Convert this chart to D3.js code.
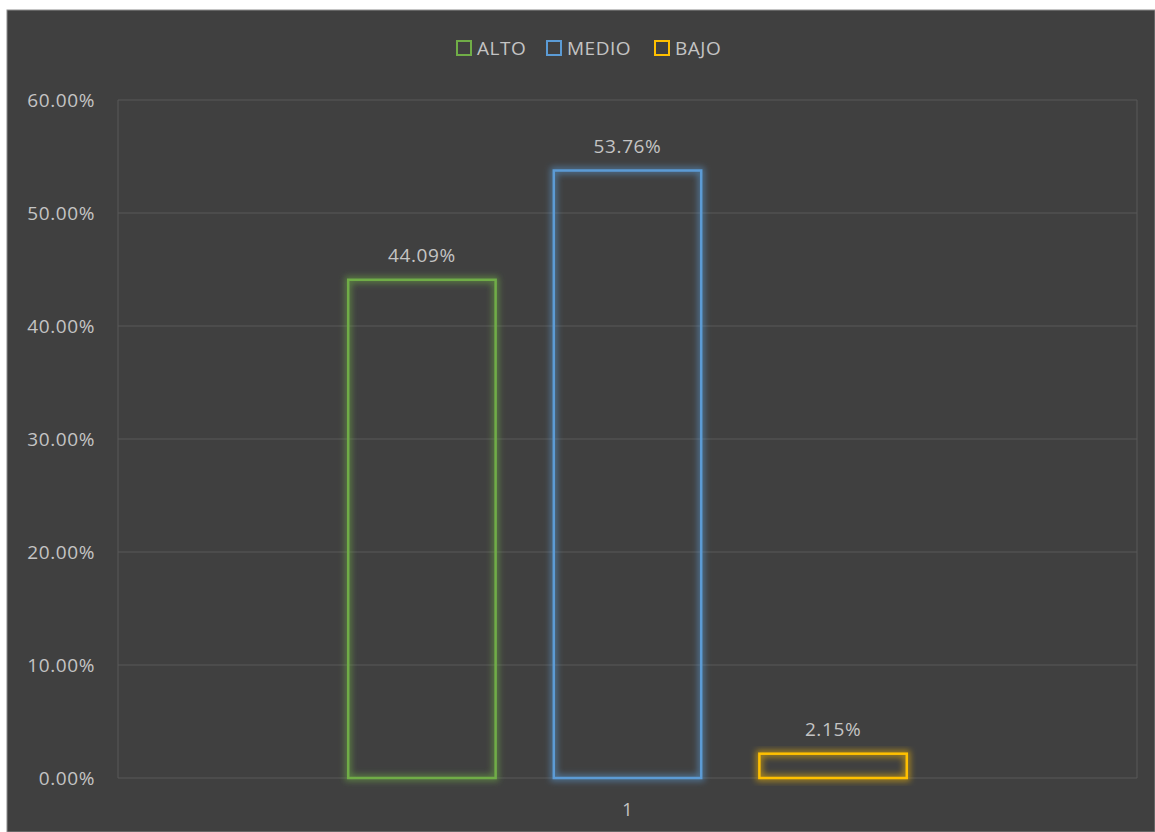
<!DOCTYPE html>
<html>
<head>
<meta charset="utf-8">
<script src="https://cdn.jsdelivr.net/npm/d3@7"></script>
<style>
  body { margin: 0; background: #ffffff; }
  text { font-family: "Open Sans", "Liberation Sans", sans-serif; fill: #c4c4c4; }
</style>
</head>
<body>
<div id="graph1"></div>
<script>
// data
var categories = ["1"];
var seriesNames = ["ALTO", "MEDIO", "BAJO"];
var seriesValues = [0.4409, 0.5376, 0.0215];
var seriesColors = ["#70ad47", "#5b9bd5", "#ffc000"];
var yTicks = [0, 0.1, 0.2, 0.3, 0.4, 0.5, 0.6];

var W = 1155, H = 832;
var margin = {top: 100, right: 18, bottom: 54, left: 118};

var svg = d3.select("#graph1").append("svg")
    .attr("width", W)
    .attr("height", H);

// glow filters, one per series
var defs = svg.append("defs");
seriesColors.forEach(function (c, i) {
    var f = defs.append("filter").attr("id", "glow" + i)
        .attr("x", "-30%").attr("y", "-30%").attr("width", "160%").attr("height", "160%");
    f.append("feMorphology").attr("in", "SourceGraphic").attr("operator", "dilate")
        .attr("radius", 2).attr("result", "d");
    f.append("feGaussianBlur").attr("in", "d").attr("stdDeviation", 3).attr("result", "b");
    f.append("feComponentTransfer").attr("in", "b").attr("result", "b2")
        .append("feFuncA").attr("type", "linear").attr("slope", 0.55);
    var m = f.append("feMerge");
    m.append("feMergeNode").attr("in", "b2");
    m.append("feMergeNode").attr("in", "SourceGraphic");
});

// chart background
svg.append("rect")
    .attr("x", 7).attr("y", 10)
    .attr("width", W - 7).attr("height", H - 10)
    .attr("fill", "#404040")
    .attr("stroke", "#8c8c8c").attr("stroke-width", 1);

var x0 = d3.scaleBand().domain(categories)
    .range([margin.left, W - margin.right]);
var x1 = d3.scaleBand().domain(seriesNames)
    .range([0, x0.bandwidth()])
    .paddingInner(0.283).paddingOuter(1.12);
var y = d3.scaleLinear().domain([0, 0.6])
    .range([H - margin.bottom, margin.top]);

// gridlines
svg.append("g").selectAll("line")
    .data(yTicks)
    .enter().append("line")
    .attr("x1", margin.left).attr("x2", W - margin.right)
    .attr("y1", function (d) { return y(d); })
    .attr("y2", function (d) { return y(d); })
    .attr("stroke", "#595959").attr("stroke-width", 1);

// plot area border sides
svg.append("line")
    .attr("x1", margin.left).attr("x2", margin.left)
    .attr("y1", margin.top).attr("y2", H - margin.bottom)
    .attr("stroke", "#595959");
svg.append("line")
    .attr("x1", W - margin.right).attr("x2", W - margin.right)
    .attr("y1", margin.top).attr("y2", H - margin.bottom)
    .attr("stroke", "#595959");

// y axis
var yAxis = svg.append("g")
    .attr("transform", "translate(" + (margin.left - 23) + ",0)")
    .call(d3.axisLeft(y).tickValues(yTicks).tickFormat(d3.format(".2%")).tickSize(0).tickPadding(0));
yAxis.select(".domain").remove();
yAxis.selectAll("text").attr("font-size", 19).attr("fill", "#c4c4c4")
    .style("letter-spacing", "0.6px")
    .style("font-family", "\"Open Sans\", sans-serif");

// x axis
var xAxis = svg.append("g")
    .attr("transform", "translate(0," + (H - margin.bottom) + ")")
    .call(d3.axisBottom(x0).tickSize(0).tickPadding(25));
xAxis.select(".domain").remove();
xAxis.selectAll("text").attr("font-size", 18).attr("fill", "#c4c4c4")
    .style("font-family", "\"Open Sans\", sans-serif");

// bars
var data = seriesNames.map(function (s, i) {
    return {name: s, value: seriesValues[i], color: seriesColors[i], idx: i};
});

var g = svg.append("g").attr("transform", "translate(" + x0("1") + ",0)");

g.selectAll("rect.bar")
    .data(data)
    .enter().append("rect")
    .attr("class", "bar")
    .attr("x", function (d) { return x1(d.name); })
    .attr("y", function (d) { return y(d.value); })
    .attr("width", x1.bandwidth())
    .attr("height", function (d) { return y(0) - y(d.value); })
    .attr("fill", "none")
    .attr("stroke", function (d) { return d.color; })
    .attr("stroke-width", 2.5)
    .attr("filter", function (d) { return "url(#glow" + d.idx + ")"; });

g.selectAll("text.lbl")
    .data(data)
    .enter().append("text")
    .attr("class", "lbl")
    .attr("x", function (d) { return x1(d.name) + x1.bandwidth() / 2; })
    .attr("y", function (d) { return y(d.value) - 18; })
    .attr("text-anchor", "middle")
    .attr("font-size", 19)
    .style("letter-spacing", "0.6px")
    .text(function (d) { return d3.format(".2%")(d.value); });

// legend
var legendX = [457, 547, 655];
var legend = svg.append("g");
data.forEach(function (d, i) {
    var lg = legend.append("g").attr("transform", "translate(" + legendX[i] + ",41)");
    lg.append("rect").attr("width", 14).attr("height", 14)
        .attr("fill", "none").attr("stroke", d.color).attr("stroke-width", 2);
    lg.append("text").attr("x", 20).attr("y", 14)
        .attr("font-size", 19).style("letter-spacing", "0.5px").text(d.name);
});
</script>
</body>
</html>
